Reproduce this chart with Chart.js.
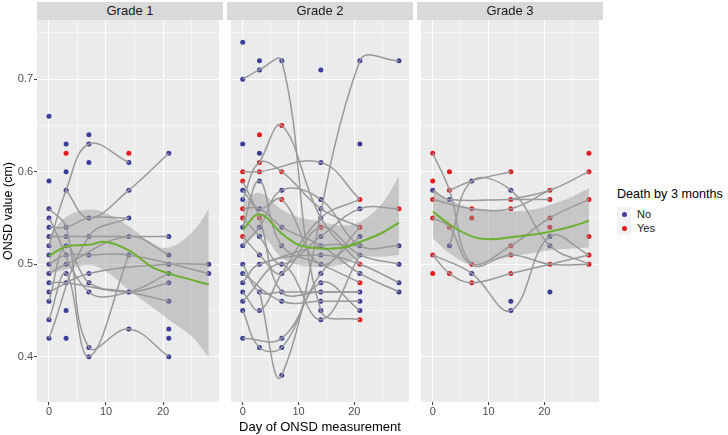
<!DOCTYPE html>
<html>
<head>
<meta charset="utf-8">
<script src="https://cdn.jsdelivr.net/npm/chart.js@4.4.0/dist/chart.umd.min.js"></script>
<style>
  body { margin: 0; background: #fff; width: 728px; height: 435px; position: relative; overflow: hidden;
         font-family: 'Liberation Sans', Arial, sans-serif; }
  canvas { position: absolute; top: 0; }
  .strip { position: absolute; top: 2px; width: 186px; height: 18px; background: #D9D9D9; color: #1A1A1A;
           font-size: 13px; line-height: 18px; text-align: center; }
  .xtitle { position: absolute; left: 37px; width: 566px; top: 419px; font-size: 13px; line-height: 15px;
            text-align: center; color: #000; }
  .legend { position: absolute; left: 617px; top: 186px; color: #000; }
  .legend .title { font-size: 12.6px; line-height: 16px; margin-bottom: 5px; white-space: nowrap; }
  .legend .item { height: 14px; display: flex; align-items: center; font-size: 11px; color: #1A1A1A; }
  .legend .key { width: 14px; height: 14px; background: #F2F2F2; position: relative; margin-right: 6px; }
  .legend .key span { position: absolute; left: 4.5px; top: 4.5px; width: 5px; height: 5px; border-radius: 50%; }
</style>
</head>
<body>
<canvas id="panel1" width="223" height="435" style="left:0"></canvas>
<canvas id="panel2" width="186" height="435" style="left:227px"></canvas>
<canvas id="panel3" width="186" height="435" style="left:417px"></canvas>
<div class="strip" style="left:37px">Grade 1</div>
<div class="strip" style="left:227px">Grade 2</div>
<div class="strip" style="left:417px">Grade 3</div>
<div class="xtitle">Day of ONSD measurement</div>
<div class="legend">
  <div class="title">Death by 3 months</div>
  <div class="item"><div class="key"><span style="background:#3B3D97"></span></div>No</div>
  <div class="item"><div class="key"><span style="background:#E3191C"></span></div>Yes</div>
</div>

<script>
// ---- data (day, ONSD cm) ----
const xTicks = [0, 5, 10, 15, 20, 25];
const yTicks = [0.4, 0.45, 0.5, 0.55, 0.6, 0.65, 0.7, 0.75];
const smoothDays = [0, 3, 7, 10, 14, 18, 21, 25, 28];

// Grade 1
const g1No = [[0,0.66],[0,0.59],[0,0.56],[0,0.55],[0,0.54],[0,0.53],[0,0.52],[0,0.51],[0,0.50],[0,0.49],[0,0.48],[0,0.47],[0,0.46],[0,0.44],[0,0.42],
  [3,0.63],[3,0.60],[3,0.58],[3,0.54],[3,0.53],[3,0.52],[3,0.51],[3,0.50],[3,0.49],[3,0.48],[3,0.45],[3,0.42],
  [7,0.64],[7,0.63],[7,0.61],[7,0.55],[7,0.53],[7,0.51],[7,0.49],[7,0.48],[7,0.47],[7,0.41],[7,0.40],
  [14,0.61],[14,0.58],[14,0.55],[14,0.53],[14,0.51],[14,0.47],[14,0.43],
  [21,0.62],[21,0.53],[21,0.51],[21,0.50],[21,0.49],[21,0.48],[21,0.46],[21,0.43],[21,0.42],[21,0.40],
  [28,0.50],[28,0.49]];
const g1Yes = [[3,0.62],[14,0.62]];
const g1Paths = [
  [[0,0.52],[3,0.58],[7,0.63],[14,0.61]],
  [[3,0.58],[7,0.55],[14,0.58],[21,0.62]],
  [[0,0.54],[3,0.54],[7,0.55],[14,0.55]],
  [[0,0.53],[3,0.53],[7,0.53],[21,0.53]],
  [[0,0.50],[3,0.51],[7,0.51],[14,0.51],[28,0.49]],
  [[0,0.49],[3,0.50],[14,0.53],[21,0.51]],
  [[0,0.48],[3,0.48],[14,0.47],[21,0.48]],
  [[0,0.47],[7,0.49],[21,0.50],[28,0.50]],
  [[0,0.46],[3,0.52],[7,0.48],[14,0.47],[21,0.46]],
  [[0,0.44],[3,0.49],[7,0.40],[14,0.51]],
  [[0,0.56],[3,0.54],[7,0.41],[14,0.43],[21,0.40]],
  [[0,0.55],[7,0.47],[14,0.47],[21,0.49]],
  [[0,0.42],[7,0.53],[14,0.55]]
];
const g1Fit = [0.509, 0.519, 0.521, 0.524, 0.515, 0.497, 0.490, 0.483, 0.478];
const g1Lo  = [0.490, 0.494, 0.499, 0.492, 0.472, 0.454, 0.440, 0.422, 0.399];
const g1Hi  = [0.530, 0.551, 0.559, 0.555, 0.541, 0.523, 0.518, 0.534, 0.559];

// Grade 2
const g2No = [[0,0.74],[0,0.70],[0,0.63],[0,0.58],[0,0.57],[0,0.54],[0,0.52],[0,0.50],[0,0.49],[0,0.48],[0,0.47],[0,0.46],[0,0.45],[0,0.42],
  [3,0.72],[3,0.71],[3,0.62],[3,0.59],[3,0.56],[3,0.54],[3,0.53],[3,0.51],[3,0.50],[3,0.47],[3,0.45],[3,0.41],
  [7,0.72],[7,0.58],[7,0.54],[7,0.52],[7,0.50],[7,0.49],[7,0.47],[7,0.46],[7,0.42],[7,0.41],[7,0.38],
  [14,0.71],[14,0.61],[14,0.57],[14,0.56],[14,0.55],[14,0.53],[14,0.52],[14,0.51],[14,0.50],[14,0.49],[14,0.48],[14,0.47],[14,0.46],[14,0.45],[14,0.44],
  [21,0.72],[21,0.63],[21,0.56],[21,0.53],[21,0.52],[21,0.51],[21,0.49],[21,0.47],[21,0.46],[21,0.45],
  [28,0.72],[28,0.52],[28,0.50],[28,0.48],[28,0.47]];
const g2Yes = [[0,0.60],[0,0.59],[0,0.56],[0,0.55],[0,0.53],
  [3,0.64],[3,0.61],[3,0.60],[3,0.55],
  [7,0.65],[7,0.60],[7,0.57],
  [14,0.54],
  [21,0.57],[21,0.54],[21,0.50],[21,0.48],[21,0.44],
  [28,0.56]];
const g2Paths = [
  [[0,0.70],[3,0.71],[7,0.72],[14,0.45],[21,0.44]],
  [[3,0.47],[7,0.38],[21,0.72],[28,0.72]],
  [[3,0.61],[7,0.65],[14,0.55],[21,0.50]],
  [[0,0.60],[3,0.60],[14,0.61],[21,0.57]],
  [[0,0.57],[3,0.61],[7,0.60],[14,0.56],[21,0.54]],
  [[0,0.59],[3,0.55],[7,0.47],[14,0.47],[21,0.47]],
  [[0,0.56],[3,0.56],[7,0.54],[14,0.52],[21,0.49],[28,0.47]],
  [[0,0.55],[3,0.53],[7,0.50],[14,0.53],[21,0.56],[28,0.56]],
  [[0,0.54],[3,0.59],[7,0.52],[14,0.50],[21,0.48]],
  [[0,0.53],[3,0.51],[7,0.49],[14,0.54],[21,0.51],[28,0.50]],
  [[0,0.52],[3,0.54],[7,0.58],[14,0.57],[21,0.52],[28,0.52]],
  [[0,0.50],[3,0.47],[7,0.47],[14,0.47],[21,0.47]],
  [[0,0.49],[7,0.46],[14,0.46],[21,0.46]],
  [[0,0.48],[3,0.50],[14,0.51],[21,0.50],[28,0.48]],
  [[0,0.42],[7,0.42],[14,0.49],[21,0.53]],
  [[0,0.45],[3,0.41],[7,0.41],[14,0.48],[21,0.45]],
  [[0,0.58],[3,0.56],[7,0.57],[14,0.50],[21,0.54]],
  [[0,0.47],[3,0.45],[7,0.49],[14,0.55],[21,0.57]],
  [[0,0.46],[7,0.50],[14,0.44],[21,0.51]],
  [[3,0.50],[14,0.52],[21,0.52]]
];
const g2Fit = [0.537, 0.554, 0.533, 0.521, 0.517, 0.518, 0.524, 0.534, 0.545];
const g2Lo  = [0.518, 0.532, 0.507, 0.499, 0.497, 0.500, 0.508, 0.508, 0.510];
const g2Hi  = [0.566, 0.577, 0.559, 0.551, 0.546, 0.542, 0.546, 0.566, 0.595];

// Grade 3
const g3No = [[0,0.58],[3,0.57],[3,0.52],[7,0.59],[7,0.49],[14,0.58],[14,0.46],[14,0.45],[21,0.53],[21,0.52],[21,0.47]];
const g3Yes = [[0,0.62],[0,0.59],[0,0.57],[0,0.55],[0,0.51],[0,0.49],
  [3,0.60],[3,0.58],[3,0.54],[3,0.49],
  [7,0.56],[7,0.55],[7,0.50],[7,0.48],
  [14,0.60],[14,0.57],[14,0.56],[14,0.52],[14,0.51],[14,0.49],
  [21,0.58],[21,0.57],[21,0.55],[21,0.54],[21,0.50],
  [28,0.62],[28,0.60],[28,0.57],[28,0.53],[28,0.51],[28,0.50]];
const g3Paths = [
  [[0,0.62],[3,0.58],[7,0.50],[14,0.51],[21,0.50],[28,0.50]],
  [[3,0.58],[7,0.59],[14,0.60]],
  [[0,0.58],[3,0.57],[14,0.57],[21,0.57]],
  [[0,0.57],[7,0.56],[14,0.56],[21,0.58]],
  [[0,0.55],[3,0.54],[7,0.50],[14,0.52],[21,0.55],[28,0.57]],
  [[0,0.51],[3,0.49],[7,0.48],[14,0.49],[28,0.51]],
  [[0,0.51],[7,0.49],[14,0.45],[21,0.53],[28,0.51]],
  [[14,0.57],[21,0.58],[28,0.60]],
  [[3,0.52],[7,0.59],[14,0.58],[21,0.52],[28,0.50]]
];
const g3Fit = [0.557, 0.543, 0.530, 0.527, 0.529, 0.532, 0.535, 0.541, 0.547];
const g3Lo  = [0.528, 0.512, 0.499, 0.503, 0.508, 0.512, 0.515, 0.517, 0.518];
const g3Hi  = [0.580, 0.570, 0.560, 0.559, 0.557, 0.559, 0.564, 0.573, 0.582];

// ---- styling ----
const BLUE = '#3B3D97';
const RED = '#E3191C';
const PATH_GREY = '#999999';
const BAND = 'rgba(153,153,153,0.45)';
const GREEN = '#6BB02E';
const FONT = "'Liberation Sans', Arial, sans-serif";

const pairs = arr => arr.map(([x, y]) => ({ x, y }));
const zipDays = vals => smoothDays.map((d, i) => ({ x: d, y: vals[i] }));
const isMajor = (v, step) => Math.abs(v / step - Math.round(v / step)) < 1e-6;

// grey panel background
const panelBg = {
  id: 'panelBg',
  beforeDraw(chart) {
    const { ctx, chartArea: a } = chart;
    ctx.save();
    ctx.fillStyle = '#EBEBEB';
    ctx.fillRect(a.left, a.top, a.right - a.left, a.bottom - a.top);
    ctx.restore();
  }
};

/**
 * One facet panel
 */
function makePanel(id, no, yes, paths, fit, lo, hi, showY) {
  const datasets = [];

  datasets.push({ data: zipDays(fit), showLine: true, borderColor: GREEN, borderWidth: 2,
    pointRadius: 0, tension: 0.4, order: 0 });
  datasets.push({ data: zipDays(lo), showLine: true, borderWidth: 0, pointRadius: 0,
    tension: 0.4, fill: false, order: 1 });
  datasets.push({ data: zipDays(hi), showLine: true, borderWidth: 0, pointRadius: 0,
    tension: 0.4, fill: '-1', backgroundColor: BAND, order: 1 });

  paths.forEach(p => datasets.push({ data: pairs(p), showLine: true, borderColor: PATH_GREY,
    borderWidth: 1.5, pointRadius: 0, tension: 0.4, order: 2 }));

  datasets.push({ data: pairs(no), backgroundColor: BLUE, borderWidth: 0, pointRadius: 2.5, order: 3 });
  datasets.push({ data: pairs(yes), backgroundColor: RED, borderWidth: 0, pointRadius: 2.5, order: 3 });

  const gridFor = step => ({
    color: '#FFFFFF',
    lineWidth: ctx => (ctx.tick && isMajor(ctx.tick.value, step) ? 1.1 : 0.55),
    tickColor: ctx => (ctx.tick && isMajor(ctx.tick.value, step) ? '#333333' : 'rgba(0,0,0,0)'),
    tickLength: 3,
    tickWidth: 1
  });

  return new Chart(document.getElementById(id), {
    type: 'scatter',
    data: { datasets },
    plugins: [panelBg],
    options: {
      responsive: false,
      animation: false,
      events: [],
      layout: { padding: { top: 20, left: 0, right: 0, bottom: 0 } },
      plugins: { legend: { display: false }, tooltip: { enabled: false } },
      scales: {
        x: {
          type: 'linear', min: -2.1, max: 29.8,
          afterBuildTicks: s => { s.ticks = xTicks.map(v => ({ value: v })); },
          afterFit: s => { s.height = 33; },
          border: { display: false },
          grid: gridFor(10),
          ticks: {
            autoSkip: false, maxRotation: 0, padding: 0,
            color: '#4D4D4D', font: { family: FONT, size: 11 },
            callback: v => (isMajor(v, 10) ? String(v) : '')
          }
        },
        y: {
          type: 'linear', min: 0.351, max: 0.764,
          afterBuildTicks: s => { s.ticks = yTicks.map(v => ({ value: v })); },
          afterFit: s => { s.width = showY ? 37 : 0; },
          border: { display: false },
          grid: Object.assign(gridFor(0.1), { drawTicks: showY }),
          ticks: {
            display: showY, autoSkip: false, padding: 1,
            color: '#4D4D4D', font: { family: FONT, size: 11 },
            callback: v => (isMajor(v, 0.1) ? v.toFixed(1) : '')
          },
          title: {
            display: showY, text: 'ONSD value (cm)', color: '#000000',
            font: { family: FONT, size: 12.5 }, padding: { top: 1, bottom: 0 }
          }
        }
      }
    }
  });
}

makePanel('panel1', g1No, g1Yes, g1Paths, g1Fit, g1Lo, g1Hi, true);
makePanel('panel2', g2No, g2Yes, g2Paths, g2Fit, g2Lo, g2Hi, false);
makePanel('panel3', g3No, g3Yes, g3Paths, g3Fit, g3Lo, g3Hi, false);
</script>
</body>
</html>
